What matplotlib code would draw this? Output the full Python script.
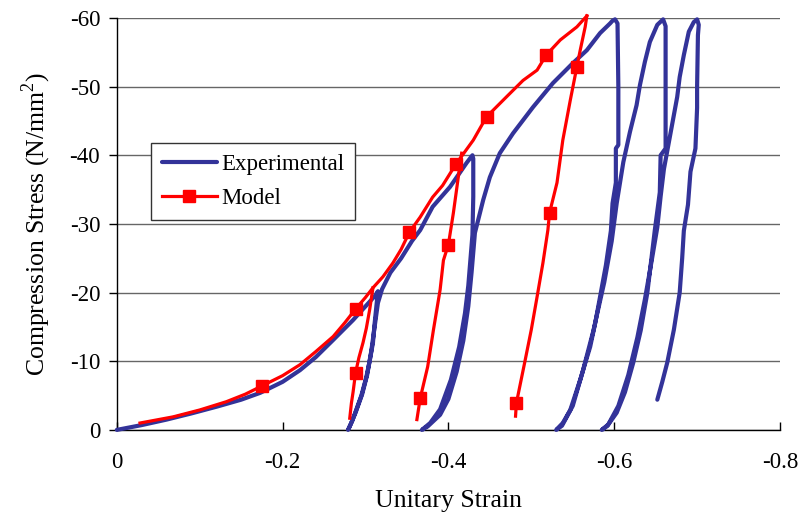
import matplotlib
matplotlib.use("Agg")
import matplotlib.pyplot as plt

plt.rcParams["font.family"] = ["Liberation Serif", "DejaVu Serif"]
plt.rcParams["mathtext.fontset"] = "custom"
plt.rcParams["mathtext.rm"] = "Liberation Serif"
plt.rcParams["axes.unicode_minus"] = False

# Experimental cyclic compression test (strain, stress in N/mm2)
exp_strain = [
    0.0, -0.03, -0.06, -0.09, -0.121, -0.15, -0.173, -0.20, -0.221, -0.24,
    -0.261, -0.285, -0.300, -0.312, -0.315,
    # unload 1
    -0.314, -0.311, -0.309, -0.305, -0.301, -0.295, -0.289, -0.284, -0.279,
    # reload 1 and envelope to -40
    -0.282, -0.288, -0.296, -0.302, -0.307, -0.311, -0.315, -0.320, -0.330,
    -0.343, -0.356, -0.366, -0.381, -0.402, -0.422, -0.429,
    # unload 2
    -0.430, -0.430, -0.429, -0.427, -0.424, -0.420, -0.413, -0.403, -0.390,
    -0.378, -0.368,
    # reload 2 and envelope to -60
    -0.375, -0.390, -0.400, -0.410, -0.418, -0.424, -0.428, -0.432, -0.442,
    -0.450, -0.462, -0.478, -0.502, -0.526, -0.550, -0.567, -0.583, -0.595,
    -0.598, -0.601,
    # unload 3
    -0.604, -0.605, -0.605, -0.602, -0.602, -0.598, -0.596, -0.590, -0.583,
    -0.577, -0.571, -0.559, -0.547, -0.538, -0.530,
    # reload 3
    -0.537, -0.550, -0.562, -0.575, -0.588, -0.597, -0.603, -0.611, -0.619,
    -0.627, -0.631, -0.637, -0.643, -0.652, -0.659,
    # unload 4
    -0.662, -0.662, -0.662, -0.656, -0.655, -0.653, -0.649, -0.645, -0.640,
    -0.632, -0.623, -0.613, -0.603, -0.593, -0.585,
    # reload 4
    -0.592, -0.605, -0.617, -0.628, -0.637, -0.645, -0.652, -0.656, -0.660,
    -0.665, -0.670, -0.676, -0.679, -0.684, -0.690, -0.696, -0.700,
    # unload 5
    -0.702, -0.701, -0.700, -0.700, -0.698, -0.692, -0.689, -0.684, -0.682,
    -0.679, -0.672, -0.664, -0.658, -0.652,
]
exp_stress = [
    0.0, -0.7, -1.5, -2.4, -3.4, -4.4, -5.4, -7.0, -8.7, -10.6,
    -13.1, -16.0, -18.0, -19.6, -20.2,
    -19.0, -15.5, -12.7, -10.0, -7.7, -5.0, -3.0, -1.3, 0.0,
    -0.8, -2.5, -5.2, -8.0, -11.5, -15.0, -18.5, -20.5, -22.9,
    -25.0, -27.5, -29.1, -32.5, -35.4, -38.9, -40.0,
    -39.5, -34.0, -28.4, -25.5, -21.0, -17.0, -12.1, -7.3, -3.0,
    -1.0, 0.0,
    -0.5, -2.2, -4.5, -8.5, -13.0, -18.0, -23.0, -28.7, -33.5,
    -36.8, -40.3, -43.2, -47.0, -50.5, -53.4, -55.3, -57.8, -59.2,
    -59.6, -59.8,
    -59.2, -50.0, -41.5, -41.0, -36.0, -33.0, -29.0, -24.0, -19.4,
    -15.5, -12.1, -7.3, -2.9, -1.0, 0.0,
    -0.6, -3.5, -8.5, -14.5, -21.5, -27.5, -33.0, -39.0, -43.4,
    -47.3, -50.2, -53.6, -56.5, -59.0, -59.8,
    -58.8, -50.0, -41.0, -40.0, -34.6, -32.8, -29.1, -25.0, -20.0,
    -14.5, -9.8, -5.5, -2.5, -0.8, 0.0,
    -0.6, -3.5, -8.0, -13.5, -19.0, -24.5, -29.5, -34.0, -38.0,
    -41.3, -44.6, -48.5, -51.4, -54.6, -58.0, -59.4, -59.8,
    -59.0, -57.5, -50.0, -46.9, -41.0, -37.6, -32.8, -29.0, -25.0,
    -20.0, -14.6, -9.8, -7.0, -4.4,
]

# Model: loading envelope
model_env_strain = [
    -0.028, -0.068, -0.100, -0.132, -0.155, -0.175, -0.200, -0.221, -0.240,
    -0.261, -0.275, -0.288, -0.300, -0.309, -0.321, -0.333, -0.343, -0.353,
    -0.366, -0.381, -0.393, -0.409, -0.418, -0.430, -0.446, -0.470, -0.490,
    -0.507, -0.518, -0.535, -0.555, -0.567,
]
model_env_stress = [
    -1.0, -1.9, -2.9, -4.1, -5.2, -6.4, -7.9, -9.5, -11.4,
    -13.6, -15.6, -17.6, -19.3, -20.7, -22.3, -24.3, -26.3, -28.8,
    -31.0, -33.9, -35.6, -38.7, -40.2, -42.2, -45.6, -48.5, -50.9,
    -52.4, -54.6, -56.8, -58.7, -60.3,
]
model_env_marks = [5, 11, 17, 21, 24, 28]

# Model: unloading branches
model_u1_strain = [-0.309, -0.305, -0.301, -0.297, -0.292, -0.288, -0.285, -0.283, -0.281]
model_u1_stress = [-20.7, -17.5, -14.8, -12.7, -10.5, -8.3, -5.5, -3.9, -1.7]
model_u1_marks = [5]

model_u2_strain = [-0.416, -0.413, -0.411, -0.406, -0.400, -0.394, -0.390,
                   -0.382, -0.375, -0.366, -0.362]
model_u2_stress = [-40.3, -37.8, -36.0, -31.6, -27.0, -24.7, -20.4,
                   -14.6, -9.2, -4.6, -1.5]
model_u2_marks = [4, 9]

model_u3_strain = [-0.567, -0.565, -0.559, -0.555, -0.547, -0.538, -0.531, -0.522,
                   -0.520, -0.514, -0.507, -0.500, -0.492, -0.482, -0.481]
model_u3_stress = [-60.3, -58.7, -55.3, -52.9, -48.0, -42.2, -36.0, -31.6,
                   -29.1, -24.3, -19.4, -14.6, -9.8, -3.9, -2.0]
model_u3_marks = [3, 7, 13]

x_ticks = [0, -0.2, -0.4, -0.6, -0.8]
x_tick_labels = ["0", "-0.2", "-0.4", "-0.6", "-0.8"]
y_ticks = [0, -10, -20, -30, -40, -50, -60]
y_tick_labels = ["0", "-10", "-20", "-30", "-40", "-50", "-60"]

BLUE = "#333399"
RED = "#ff0000"

fig = plt.figure(figsize=(8.0, 5.13), dpi=100)
ax = fig.add_axes([0.146, 0.162, 0.829, 0.803])

ax.plot(exp_strain, exp_stress, color=BLUE, lw=3.0, solid_capstyle="round",
        solid_joinstyle="round", clip_on=False, zorder=3, label="Experimental")

model_segments = [
    (model_env_strain, model_env_stress, model_env_marks),
    (model_u1_strain, model_u1_stress, model_u1_marks),
    (model_u2_strain, model_u2_stress, model_u2_marks),
    (model_u3_strain, model_u3_stress, model_u3_marks),
]
for i, (xs, ys, marks) in enumerate(model_segments):
    ax.plot(xs, ys, color=RED, lw=2.3, marker="s", markersize=8,
            markevery=marks, solid_joinstyle="round", clip_on=False, zorder=4,
            label="Model" if i == 0 else None)

ax.set_xlim(0, -0.8)
ax.set_ylim(0, -60)
ax.set_xticks(x_ticks)
ax.set_xticklabels(x_tick_labels)
ax.set_yticks(y_ticks)
ax.set_yticklabels(y_tick_labels)

ax.tick_params(axis="x", direction="in", length=6, width=1, pad=16, labelsize=16.5)
ax.tick_params(axis="y", direction="out", length=6, width=1, pad=6, labelsize=16.5)

ax.yaxis.grid(True, color="#666666", lw=1.0, zorder=0)
ax.set_axisbelow(True)
for side in ("top", "right"):
    ax.spines[side].set_visible(False)
for side in ("left", "bottom"):
    ax.spines[side].set_linewidth(1.0)

ax.set_xlabel("Unitary Strain", fontsize=18.5, labelpad=12)
ax.set_ylabel("Compression Stress (N/mm$^2$)", fontsize=18.5, labelpad=12)

leg = ax.legend(loc="upper left", bbox_to_anchor=(0.052, 0.696), borderaxespad=0,
                fontsize=16.5, frameon=True, fancybox=False, framealpha=1,
                edgecolor="#333333", handlelength=2.4, handletextpad=0.2,
                borderpad=0.45, labelspacing=0.6)
leg.get_frame().set_linewidth(1.0)

fig.savefig("out.png", dpi=100)
